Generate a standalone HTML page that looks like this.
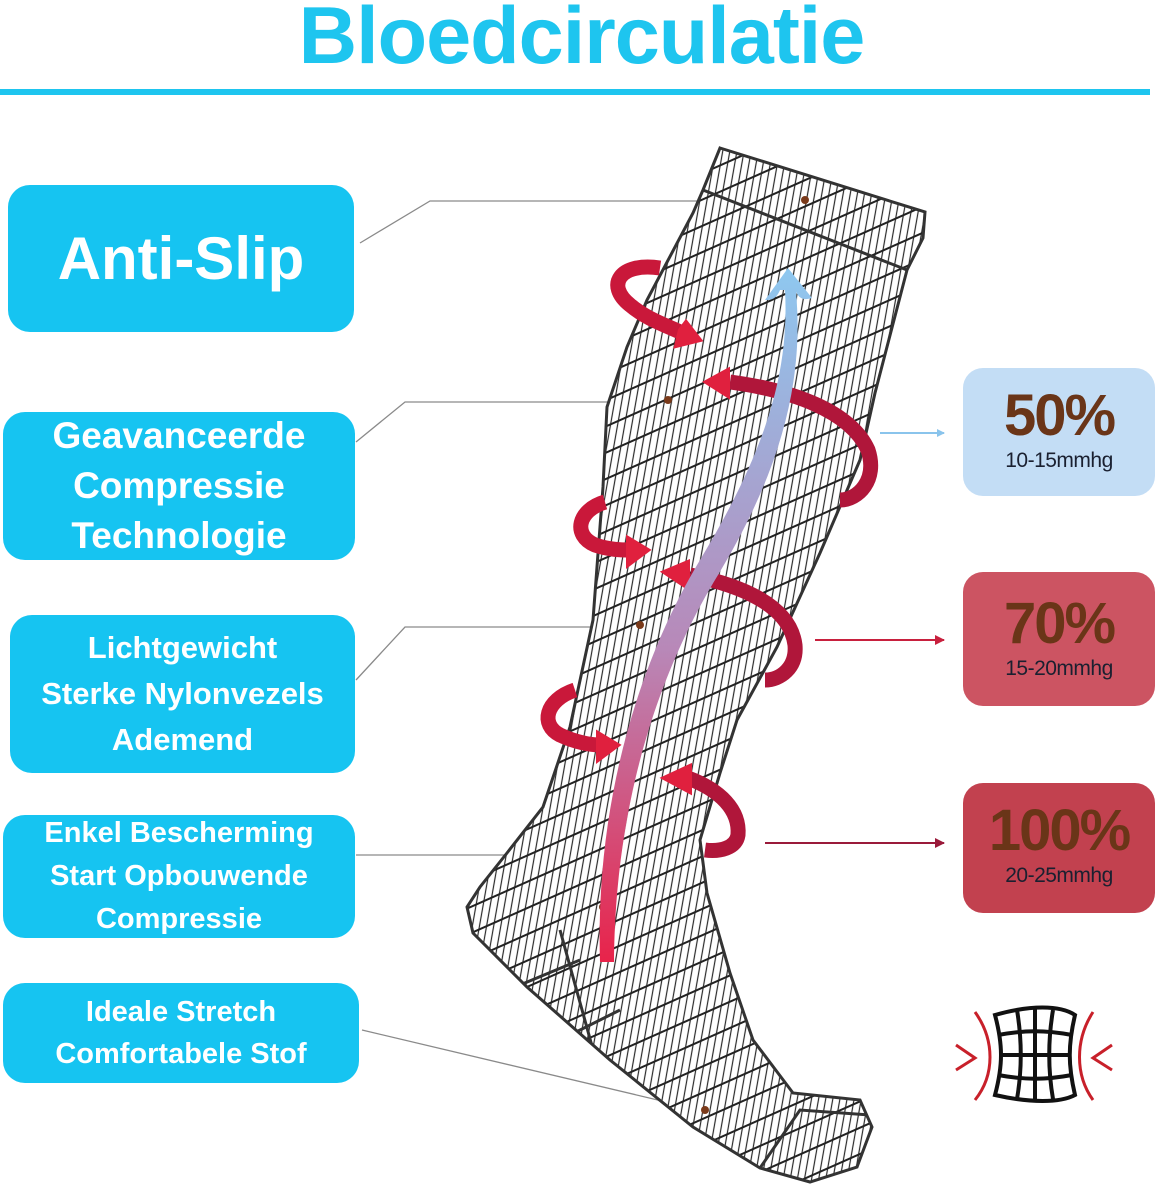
<!DOCTYPE html>
<html><head><meta charset="utf-8"><style>
html,body{margin:0;padding:0;background:#fff;}
body{width:1163px;height:1200px;position:relative;overflow:hidden;font-family:"Liberation Sans",sans-serif;}
.t{position:absolute;left:0;width:1163px;top:-10px;text-align:center;font-weight:bold;font-size:81px;color:#1ec5ef;letter-spacing:-1px;}
.bx{position:absolute;background:#16c4f1;border-radius:22px;color:#fff;font-weight:bold;display:flex;flex-direction:column;justify-content:center;align-items:center;text-align:center;}
.rb{position:absolute;border-radius:20px;text-align:center;}
.rb .p{font-weight:bold;font-size:58px;color:#6a3518;letter-spacing:-2px;margin-top:16px;line-height:64px;}
.rb .m{font-size:21px;color:#1a2030;letter-spacing:-0.5px;line-height:26px;}
svg{position:absolute;left:0;top:0;}
</style></head><body>
<div class="t">Bloedcirculatie</div>
<div style="position:absolute;left:0;top:89px;width:1150px;height:6px;background:#1ec5ef;"></div>

<div class="bx" style="left:8px;top:185px;width:346px;height:147px;font-size:60px;">Anti-Slip</div>
<div class="bx" style="left:3px;top:412px;width:352px;height:148px;font-size:37px;line-height:50px;">Geavanceerde<br>Compressie<br>Technologie</div>
<div class="bx" style="left:10px;top:615px;width:345px;height:158px;font-size:31px;line-height:46px;">Lichtgewicht<br>Sterke Nylonvezels<br>Ademend</div>
<div class="bx" style="left:3px;top:815px;width:352px;height:123px;font-size:29px;line-height:43px;">Enkel Bescherming<br>Start Opbouwende<br>Compressie</div>
<div class="bx" style="left:3px;top:983px;width:356px;height:100px;font-size:29px;line-height:42px;">Ideale Stretch<br>Comfortabele Stof</div>

<div class="rb" style="left:963px;top:368px;width:192px;height:128px;background:#c3ddf5;"><div class="p">50%</div><div class="m">10-15mmhg</div></div>
<div class="rb" style="left:963px;top:572px;width:192px;height:134px;background:#cc5462;"><div class="p" style="margin-top:20px">70%</div><div class="m">15-20mmhg</div></div>
<div class="rb" style="left:963px;top:783px;width:192px;height:130px;background:#c2414f;"><div class="p">100%</div><div class="m">20-25mmhg</div></div>

<svg width="1163" height="1200" viewBox="0 0 1163 1200">
<defs>
<pattern id="h1" width="7" height="7" patternUnits="userSpaceOnUse" patternTransform="rotate(10)"><line x1="3" y1="0" x2="3" y2="7" stroke="#2a2a2a" stroke-width="1.2"/></pattern>
<pattern id="h2" width="24" height="24" patternUnits="userSpaceOnUse" patternTransform="rotate(-24)"><line x1="0" y1="12" x2="24" y2="12" stroke="#222" stroke-width="2"/></pattern>
<clipPath id="sock"><path d="M720,148 L925,212 L923,238 L907,270 L875,393 L860,460 L820,553 L777,647 L737,720 L720,773 L700,840 L707,893 L730,973 L753,1040 L793,1093 L860,1100 L872,1127 L857,1167 L810,1182 L760,1168 L693,1127 L610,1060 L527,987 L473,933 L467,907 L480,887 L507,853 L543,807 L570,727 L593,620 L603,487 L607,407 L627,347 L647,300 L693,213 L703,190 Z"/></clipPath>
<linearGradient id="bl" x1="0" y1="1" x2="0" y2="0"><stop offset="0" stop-color="#e8234a"/><stop offset="0.45" stop-color="#b888b8"/><stop offset="1" stop-color="#8ec8f0"/></linearGradient>
<marker id="ab" markerWidth="8" markerHeight="8" refX="7" refY="4" orient="auto" markerUnits="userSpaceOnUse"><path d="M0,0 L8,4 L0,8 Z" fill="#8ac4ec"/></marker>
<marker id="ar" markerWidth="10" markerHeight="10" refX="9" refY="5" orient="auto" markerUnits="userSpaceOnUse"><path d="M0,0 L10,5 L0,10 Z" fill="#c8203e"/></marker>
<marker id="ad" markerWidth="10" markerHeight="10" refX="9" refY="5" orient="auto" markerUnits="userSpaceOnUse"><path d="M0,0 L10,5 L0,10 Z" fill="#9a1a3a"/></marker>
</defs>
<g stroke="#8a8a8a" stroke-width="1.3" fill="none">
<path d="M360,243 L430,201 L800,201"/>
<path d="M356,442 L405,402 L690,402"/>
<path d="M356,680 L405,627 L640,627"/>
<path d="M356,855 L530,855"/>
<path d="M362,1030 L700,1110"/>
</g>
<path d="M720,148 L925,212 L923,238 L907,270 L875,393 L860,460 L820,553 L777,647 L737,720 L720,773 L700,840 L707,893 L730,973 L753,1040 L793,1093 L860,1100 L872,1127 L857,1167 L810,1182 L760,1168 L693,1127 L610,1060 L527,987 L473,933 L467,907 L480,887 L507,853 L543,807 L570,727 L593,620 L603,487 L607,407 L627,347 L647,300 L693,213 L703,190 Z" fill="#fff"/>
<g clip-path="url(#sock)">
<rect x="440" y="130" width="500" height="1070" fill="url(#h1)"/>
<rect x="440" y="130" width="500" height="1070" fill="url(#h2)"/>
<path d="M703,190 L907,270" stroke="#333" stroke-width="3" fill="none"/>
<path d="M520,985 L580,960 M560,1040 L620,1010 M600,1075 L560,930" stroke="#333" stroke-width="3" fill="none"/>
<path d="M760,1168 L800,1110 L870,1115" stroke="#333" stroke-width="3" fill="none"/>
</g>
<path d="M720,148 L925,212 L923,238 L907,270 L875,393 L860,460 L820,553 L777,647 L737,720 L720,773 L700,840 L707,893 L730,973 L753,1040 L793,1093 L860,1100 L872,1127 L857,1167 L810,1182 L760,1168 L693,1127 L610,1060 L527,987 L473,933 L467,907 L480,887 L507,853 L543,807 L570,727 L593,620 L603,487 L607,407 L627,347 L647,300 L693,213 L703,190 Z" fill="none" stroke="#333" stroke-width="3"/>
<g fill="#7a3a1a"><circle cx="805" cy="200" r="4"/><circle cx="668" cy="400" r="4"/><circle cx="640" cy="625" r="4"/><circle cx="603" cy="907" r="4"/><circle cx="705" cy="1110" r="4"/></g>
<g fill="none" stroke-linecap="butt">
<path d="M660,268 C620,262 605,285 630,305 C645,318 665,325 680,332" stroke="#c9183a" stroke-width="15"/>
<path d="M680,330 L676,346 L700,340 L686,322 Z" fill="#e0203e" stroke="#e0203e" stroke-width="4"/>
<path d="M730,382 C790,390 850,410 868,450 C878,480 858,500 840,500" stroke="#b0163a" stroke-width="15"/>
<path d="M728,370 L706,382 L728,396 Z" fill="#e0203e" stroke="#e0203e" stroke-width="4"/>
<path d="M605,502 C578,510 572,535 595,545 C610,550 622,550 630,550" stroke="#c9183a" stroke-width="15"/>
<path d="M628,538 L628,565 L648,550 Z" fill="#e0203e" stroke="#e0203e" stroke-width="4"/>
<path d="M690,575 C740,585 790,605 795,645 C797,668 780,680 765,680" stroke="#b0163a" stroke-width="15"/>
<path d="M688,562 L664,572 L688,588 Z" fill="#e0203e" stroke="#e0203e" stroke-width="4"/>
<path d="M575,690 C545,700 540,725 560,735 C575,742 590,745 600,745" stroke="#c9183a" stroke-width="15"/>
<path d="M598,733 L598,760 L618,745 Z" fill="#e0203e" stroke="#e0203e" stroke-width="4"/>
<path d="M688,778 C720,790 740,810 738,835 C736,848 720,852 705,850" stroke="#b0163a" stroke-width="15"/>
<path d="M690,766 L664,778 L690,792 Z" fill="#e0203e" stroke="#e0203e" stroke-width="4"/>
</g>
<path d="M600,962 C595,800 640,660 700,560 C760,460 790,380 785,290 L780,290 C776,300 770,300 765,300 L788,268 L812,298 C805,300 800,300 796,292 C805,390 775,480 718,575 C660,670 615,800 614,962 Z" fill="url(#bl)"/>
<line x1="880" y1="433" x2="944" y2="433" stroke="#8ac4ec" stroke-width="2" marker-end="url(#ab)"/>
<line x1="815" y1="640" x2="944" y2="640" stroke="#c8203e" stroke-width="2" marker-end="url(#ar)"/>
<line x1="765" y1="843" x2="944" y2="843" stroke="#9a1a3a" stroke-width="2" marker-end="url(#ad)"/>
<g fill="none" stroke="#111" stroke-width="4">
<path d="M995,1015 C1030,1005 1060,1005 1075,1015 C1068,1045 1068,1065 1075,1095 C1060,1103 1030,1103 995,1095 C1003,1065 1003,1045 995,1015 Z"/>
<path d="M1017,1010 C1022,1040 1022,1070 1017,1099 M1035,1008 L1035,1101 M1053,1010 C1048,1040 1048,1070 1053,1099"/>
<path d="M998,1035 C1025,1030 1045,1030 1072,1035 M1002,1055 L1068,1055 M998,1075 C1025,1080 1045,1080 1072,1075"/>
</g>
<g fill="none" stroke="#c8202a" stroke-width="3">
<path d="M975,1012 C995,1040 995,1075 975,1100"/>
<path d="M1093,1012 C1075,1040 1075,1075 1093,1100"/>
<path d="M956,1045 L975,1058 L956,1070"/>
<path d="M1112,1045 L1093,1058 L1112,1070"/>
</g>
</svg>
</body></html>
